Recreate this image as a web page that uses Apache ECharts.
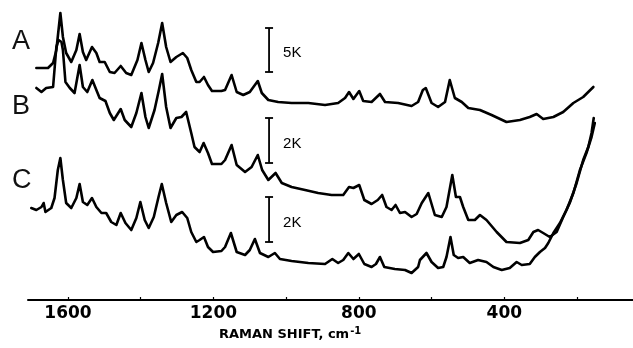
<!DOCTYPE html>
<html><head><meta charset="utf-8">
<script src="https://cdn.jsdelivr.net/npm/echarts@6/dist/echarts.min.js"></script>
<style>html,body{margin:0;padding:0;background:#fff}#c{width:633px;height:348px}</style>
</head><body><div id="c"></div>
<script>
// Raman shift (cm-1) vs. offset intensity (arbitrary units, traces stacked)
const tickLabels = [1600, 1200, 800, 400];
const minorTicks = [1600, 1400, 1200, 1000, 800, 600, 400, 200];
const traceNames = ['A', 'B', 'C'];

const spectrumA = [
 [1687,232],[1655,232],[1641,237],[1632,250],[1621,287],[1614,263],[1605,247],[1591,238],
 [1577,250],[1568,266],[1559,248],[1550,240],[1534,253],[1522,247],[1513,238],[1499,238],
 [1485,228],[1472,227],[1455,234],[1440,227],[1426,225],[1409,240],[1398,257],[1387,240],
 [1378,228],[1366,237],[1352,257],[1341,277],[1330,253],[1318,238],[1302,243],[1284,247],
 [1272,242],[1261,230],[1247,218],[1238,218],[1226,223],[1215,215],[1204,209],[1178,209],
 [1168,210],[1150,225],[1136,208],[1118,205],[1100,208],[1078,219],[1067,207],[1049,200],
 [1022,198],[985,197],[939,197],[893,195],[857,197],[838,202],[827,208],[815,201],
 [799,209],[788,199],[765,198],[742,206],[728,198],[692,197],[655,194],[637,198],
 [624,210],[616,212],[600,197],[582,193],[563,198],[550,220],[536,202],[517,198],
 [499,192],[467,190],[435,185],[394,178],[357,180],[330,183],[311,186],[293,181],
 [265,183],[238,188],[210,197],[183,203],[155,213]
];

const spectrumB = [
 [1687,212],[1673,208],[1660,212],[1641,213],[1632,253],[1626,260],[1618,258],[1614,250],
 [1607,218],[1595,212],[1582,207],[1568,235],[1559,213],[1547,208],[1533,220],[1522,210],
 [1513,202],[1497,199],[1485,187],[1474,180],[1455,191],[1444,180],[1426,173],[1412,187],
 [1398,207],[1387,183],[1378,172],[1362,190],[1350,210],[1341,226],[1330,193],[1318,172],
 [1302,182],[1288,183],[1275,188],[1261,167],[1252,153],[1238,148],[1227,157],[1215,147],
 [1204,136],[1178,136],[1168,140],[1150,155],[1136,135],[1113,128],[1095,133],[1078,145],
 [1066,130],[1049,120],[1029,127],[1012,117],[985,113],[948,110],[912,107],[875,105],
 [843,105],[827,113],[815,112],[799,115],[785,100],[765,96],[748,100],[736,105],
 [724,93],[710,90],[699,95],[687,87],[673,88],[655,83],[641,86],[627,97],
 [609,107],[591,85],[572,83],[559,93],[543,125],[533,103],[522,103],[513,93],
 [499,80],[481,80],[467,85],[449,80],[421,68],[394,58],[357,57],[334,60],
 [320,68],[307,70],[293,67],[275,63],[256,68],[238,83],[220,97],[201,117],
 [183,140],[169,153],[160,167],[154,182]
];

const spectrumC = [
 [1701,92],[1687,90],[1673,93],[1667,97],[1662,88],[1646,92],[1637,102],[1628,130],
 [1621,142],[1614,120],[1605,97],[1591,92],[1577,102],[1568,116],[1559,98],[1547,95],
 [1534,102],[1522,93],[1508,87],[1495,87],[1481,78],[1467,75],[1455,87],[1442,77],
 [1426,70],[1412,82],[1401,98],[1389,80],[1378,72],[1364,83],[1351,103],[1342,116],
 [1330,97],[1316,78],[1302,85],[1286,88],[1272,82],[1261,68],[1247,58],[1238,60],
 [1226,63],[1215,53],[1201,48],[1178,49],[1168,53],[1152,67],[1136,48],[1113,45],
 [1100,50],[1086,61],[1072,47],[1049,43],[1031,47],[1017,41],[985,39],[939,37],
 [893,36],[873,41],[857,37],[843,40],[829,47],[815,41],[800,46],[785,36],
 [765,33],[753,36],[742,43],[730,33],[701,31],[673,30],[655,27],[637,33],
 [632,40],[614,47],[600,38],[582,32],[568,33],[559,43],[548,63],[539,45],
 [527,42],[513,43],[495,37],[472,40],[449,38],[430,33],[407,30],[385,32],
 [366,38],[352,35],[330,36],[316,43],[302,48],[288,52],[279,57],[265,67],
 [247,77],[229,90],[210,107],[192,130],[174,147],[160,163],[151,177]
];

// intensity scale bars: [bottom, top] per trace, at a fixed Raman shift
const scaleBarShift = 1047;
const scaleBars = [[228, 272], [137, 182], [58, 103]];
const scaleBarLabels = ['5K', '2K', '2K'];

const chart = echarts.init(document.getElementById('c'), null, {renderer: 'canvas'});

const lineSeries = [spectrumA, spectrumB, spectrumC].map((d, i) => ({
  name: traceNames[i],
  type: 'line',
  data: d,
  showSymbol: false,
  symbol: 'none',
  smooth: false,
  lineStyle: {color: '#000', width: 2.6, join: 'round', cap: 'round'},
  animation: false,
  silent: true
}));

const option = {
  animation: false,
  backgroundColor: '#fff',
  grid: {left: 28, right: 0, top: 0, bottom: 48},
  title: {
    text: '{n|RAMAN SHIFT, cm}{s|-1}',
    left: 219, top: 326, padding: 0,
    textStyle: {
      rich: {
        n: {fontFamily: 'DejaVu Sans', fontWeight: 'bold', fontSize: 13, color: '#000'},
        s: {fontFamily: 'DejaVu Sans', fontWeight: 'bold', fontSize: 10, color: '#000', padding: [0, 0, 7, 1]}
      }
    }
  },
  xAxis: {
    type: 'value',
    inverse: true,
    min: 46, max: 1710,
    splitLine: {show: false},
    axisLine: {lineStyle: {color: '#000', width: 2}},
    axisTick: {show: true, inside: true, length: 3, customValues: minorTicks, lineStyle: {color: '#000', width: 1.2}},
    axisLabel: {
      customValues: tickLabels,
      formatter: v => String(v),
      fontFamily: 'DejaVu Sans', fontWeight: 'bold', fontSize: 17, color: '#000', margin: 5
    }
  },
  yAxis: {type: 'value', min: 0, max: 300, show: false},
  graphic: traceNames.map((n, i) => ({
    type: 'text', left: 12, top: [28, 93, 167][i],
    style: {text: n, font: '27px "Liberation Sans"', fill: '#111'}
  })),
  series: lineSeries.concat([{
    type: 'custom',
    animation: false,
    silent: true,
    data: scaleBars.map(b => [scaleBarShift, b[0], b[1]]),
    renderItem: (params, api) => {
      const p0 = api.coord([api.value(0), api.value(1)]);
      const p1 = api.coord([api.value(0), api.value(2)]);
      const st = {stroke: '#000', lineWidth: 1.8};
      return {type: 'group', children: [
        {type: 'line', shape: {x1: p0[0], y1: p0[1], x2: p1[0], y2: p1[1]}, style: st},
        {type: 'line', shape: {x1: p0[0] - 4, y1: p0[1], x2: p0[0] + 4, y2: p0[1]}, style: st},
        {type: 'line', shape: {x1: p1[0] - 4, y1: p1[1], x2: p1[0] + 4, y2: p1[1]}, style: st},
        {type: 'text', style: {text: scaleBarLabels[params.dataIndex], x: p0[0] + 14, y: (p0[1] + p1[1]) / 2 + 3,
          verticalAlign: 'middle', font: '15px "Liberation Sans"', fill: '#000'}}
      ]};
    }
  }])
};
chart.setOption(option);
</script></body></html>
